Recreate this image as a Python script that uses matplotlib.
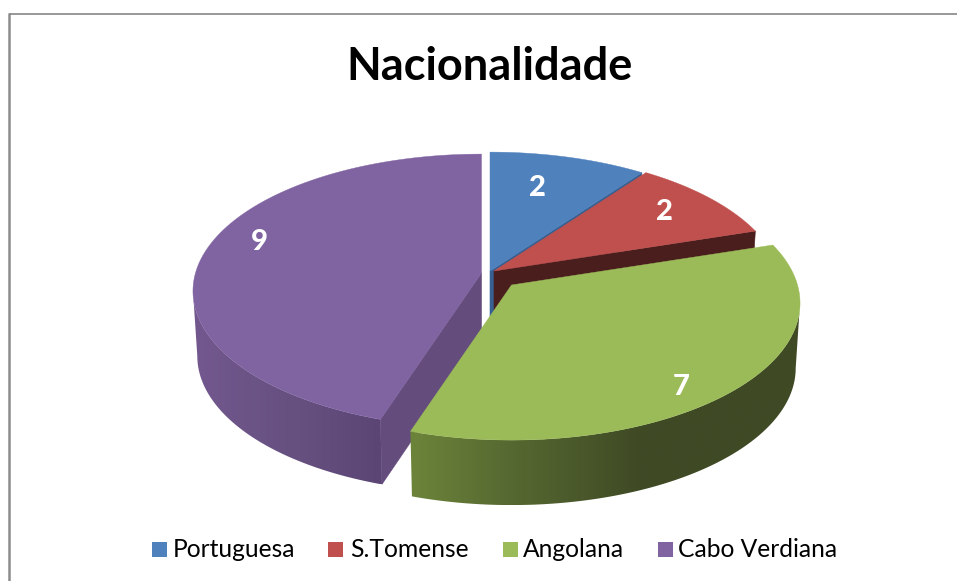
import numpy as np
import matplotlib
matplotlib.use("Agg")
import matplotlib.pyplot as plt
from matplotlib.patches import Polygon, Rectangle
from matplotlib.colors import to_rgb

# ---- data ----
categories = ["Portuguesa", "S.Tomense", "Angolana", "Cabo Verdiana"]
values = [2, 2, 7, 9]
title = "Nacionalidade"

# ---- style ----
top_colors = ["#4F81BD", "#C0504D", "#9BBB59", "#8064A2"]
cut_colors = ["#376092", "#4B1E1E", "#3F4A25", "#644C7C"]
apexes = [(490, 271), (494, 271), (511.5, 285), (481.5, 273)]
label_pos = [(537, 188), (664, 212), (681, 387), (259, 242)]
legend_sq_x = [152, 328, 503, 658]
legend_tx_x = [173, 350, 523, 678]
A, B, K = 286.0, 134.6, 0.132   # projection of the unit circle
DEPTH, SX = 65.0, 0.985         # pie thickness and bottom shrink

green_stops = [(412, "#6C843A"), (500, "#586B32"), (640, "#3F4A25"), (810, "#3F4A25")]
purple_stops = [(190, "#73588F"), (300, "#65507F"), (382, "#5A4574")]
side_stops = {2: green_stops, 3: purple_stops}

plt.rcParams["font.family"] = ["Lato", "DejaVu Sans"]
fig = plt.figure(figsize=(9.57, 5.81), dpi=100)
ax = fig.add_axes([0, 0, 1, 1])
ax.axis("off")

# chart frame
ax.plot([9.3, 9.3], [13, 581], color="#8C8C8C", lw=1.8, zorder=0, solid_capstyle="butt")
ax.plot([8.5, 957], [13.7, 13.7], color="#868686", lw=1.2, zorder=0, solid_capstyle="butt")


def top_pt(apex, deg):
    t = np.radians(deg)
    u, v = np.sin(t), np.cos(t)
    d = 1 + K * v
    return apex[0] + A * u / d, apex[1] - B * v / d


def bot_pt(apex, deg):
    x, y = top_pt(apex, deg)
    return apex[0] + (x - apex[0]) * SX, y + DEPTH


# slice angles, clockwise from 12 o'clock
edges = np.concatenate([[0], np.cumsum(values)]) / np.sum(values) * 360
# where the projected rim turns back on itself (the silhouette of the wall)
turn = np.degrees(np.arccos(-K))


def cut_face(i, deg, z):
    a = apexes[i]
    pts = [a, top_pt(a, deg), bot_pt(a, deg), (a[0], a[1] + DEPTH)]
    ax.add_patch(Polygon(pts, closed=True, fc=cut_colors[i], ec=cut_colors[i], lw=0.4, zorder=z))


def side_wall(i, d0, d1, z):
    a = apexes[i]
    angs = np.linspace(d0, d1, 300)
    pts = [top_pt(a, d) for d in angs] + [bot_pt(a, d) for d in angs[::-1]]
    xs = np.array([p[0] for p in pts])
    ys = np.array([p[1] for p in pts])
    stops = side_stops[i]
    sx = [s[0] for s in stops]
    cs = np.array([to_rgb(s[1]) for s in stops])
    gx = np.linspace(xs.min(), xs.max(), 500)
    img = np.stack([np.interp(gx, sx, cs[:, c]) for c in range(3)], axis=-1)[None, :, :]
    im = ax.imshow(img, extent=[xs.min(), xs.max(), ys.max(), ys.min()], aspect="auto",
                   interpolation="bilinear", zorder=z)
    clip = Polygon(np.column_stack([xs, ys]), closed=True, transform=ax.transData)
    im.set_clip_path(clip)


def top_face(i, z):
    a = apexes[i]
    angs = np.linspace(edges[i], edges[i + 1], 240)
    pts = [a] + [top_pt(a, d) for d in angs]
    ax.add_patch(Polygon(pts, closed=True, fc=top_colors[i], ec=top_colors[i], lw=0.3, zorder=z))


# back slices first
cut_face(0, edges[0], 1)
cut_face(0, edges[1], 1)
cut_face(1, edges[2], 2)
top_face(0, 3)
top_face(1, 4)

cut_face(3, edges[3], 5)
side_wall(3, edges[3], 360 - turn, 6)
top_face(3, 7)

side_wall(2, turn, edges[3], 8)
top_face(2, 9)

# value labels
for val, (x, y) in zip(values, label_pos):
    ax.text(x, y, str(val), color="white", fontsize=21, fontweight=900,
            ha="center", va="center", zorder=20)

ax.text(489, 67.5, title, color="black", fontsize=32.5, fontweight="bold",
        ha="center", va="center", zorder=20)

# legend
for c, name, sx, tx in zip(top_colors, categories, legend_sq_x, legend_tx_x):
    ax.add_patch(Rectangle((sx, 542), 14.5, 14.5, fc=c, ec="none", zorder=20))
    ax.text(tx, 549.5, name, color="black", fontsize=17.7, ha="left", va="center", zorder=20)

ax.set_xlim(0, 957)
ax.set_ylim(581, 0)
fig.savefig("out.png", dpi=100)
